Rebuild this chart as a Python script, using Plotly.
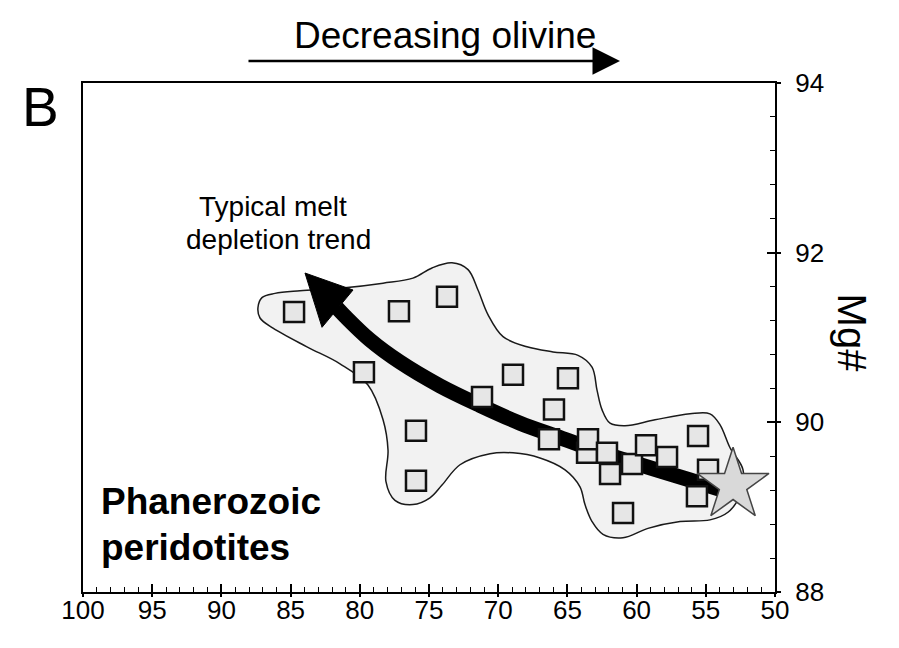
import plotly.graph_objects as go

# Olivine content (x) vs bulk-rock Mg# (y) for Phanerozoic peridotites
olivine = [84.75, 77.17, 73.70, 79.70, 71.17, 68.93, 64.96, 65.97, 75.94, 75.94,
           66.33, 63.58, 63.51, 62.14, 61.92, 60.33, 59.32, 57.80, 55.56, 54.84,
           55.64, 60.98]
mg_number = [91.30, 91.31, 91.48, 90.59, 90.30, 90.56, 90.52, 90.15, 89.90, 89.31,
             89.80, 89.64, 89.80, 89.64, 89.39, 89.51, 89.73, 89.59, 89.84, 89.44,
             89.13, 88.93]

# Primitive mantle reference composition (star)
pm_olivine = [53.03]
pm_mg = [89.26]

# Outline of the data field
field_x = [87.36, 87.07, 86.13, 84.32, 81.43, 78.32, 76.16, 74.78, 73.34, 72.18,
           71.46, 70.74, 69.65, 67.92, 66.04, 64.23, 63.22, 62.86, 62.50, 61.92,
           60.84, 58.67, 56.14, 54.70, 53.97, 53.25, 52.31, 52.53, 53.40, 54.70,
           56.86, 59.18, 60.98, 62.43, 63.22, 63.73, 64.09, 65.17, 66.98, 68.93,
           70.59, 72.76, 74.06, 74.93, 76.16, 77.46, 78.11, 77.96, 78.32, 79.41,
           81.43, 83.82, 86.27, 87.21, 87.36]
field_y = [91.35, 91.47, 91.52, 91.55, 91.58, 91.64, 91.70, 91.82, 91.88, 91.80,
           91.56, 91.27, 91.01, 90.89, 90.83, 90.79, 90.65, 90.38, 90.15, 89.99,
           89.96, 90.03, 90.10, 90.10, 89.97, 89.70, 89.44, 89.14, 88.94, 88.85,
           88.83, 88.75, 88.64, 88.68, 88.83, 89.03, 89.24, 89.44, 89.58, 89.64,
           89.63, 89.50, 89.26, 89.11, 89.03, 89.08, 89.30, 89.67, 90.03, 90.44,
           90.69, 90.89, 91.11, 91.23, 91.35]

# Melt depletion trend (curved arrow shaft and head)
trend_x = [53.97, 56.14, 59.75, 62.64, 65.53, 68.42, 71.32, 74.21, 77.10, 79.26, 81.07, 81.65]
trend_y = [89.21, 89.32, 89.50, 89.65, 89.82, 89.99, 90.20, 90.43, 90.71, 90.97, 91.25, 91.35]
head_x = [83.96, 82.73, 80.49, 83.96]
head_y = [91.76, 91.12, 91.56, 91.76]

x_ticks = [100, 95, 90, 85, 80, 75, 70, 65, 60, 55, 50]
y_ticks = [88, 90, 92, 94]

FONT = "Liberation Sans, Arial, sans-serif"

fig = go.Figure()

fig.add_trace(go.Scatter(
    x=field_x, y=field_y, mode="lines", fill="toself",
    fillcolor="#f2f2f2", line=dict(color="#1a1a1a", width=1.5, shape="spline", smoothing=1),
    hoverinfo="skip", showlegend=False))

fig.add_trace(go.Scatter(
    x=trend_x, y=trend_y, mode="lines",
    line=dict(color="black", width=15, shape="spline"),
    hoverinfo="skip", showlegend=False))

fig.add_trace(go.Scatter(
    x=head_x, y=head_y, mode="lines", fill="toself", fillcolor="black",
    line=dict(color="black", width=1), hoverinfo="skip", showlegend=False))

fig.add_trace(go.Scatter(
    x=olivine, y=mg_number, mode="markers",
    marker=dict(symbol="square", size=20, color="#e6e6e6",
                line=dict(color="#111111", width=2.5)),
    showlegend=False))

fig.add_trace(go.Scatter(
    x=pm_olivine, y=pm_mg, mode="markers",
    marker=dict(symbol="star", size=54, color="#d9d9d9",
                line=dict(color="#444444", width=1.5)),
    showlegend=False))

# Invisible trace on the overlay axes so their outward major ticks are drawn
fig.add_trace(go.Scatter(x=[100], y=[88], xaxis="x2", yaxis="y2", mode="markers",
                         marker=dict(opacity=0), hoverinfo="skip", showlegend=False))

fig.update_layout(
    width=899, height=648,
    margin=dict(l=83, r=124, t=83, b=56),
    paper_bgcolor="white", plot_bgcolor="white",
    font=dict(family=FONT, color="black"),
    xaxis=dict(
        range=[100, 50], tickvals=x_ticks, ticks="inside", ticklen=8, tickwidth=1.5,
        tickcolor="black", showline=True, linecolor="black", linewidth=2, mirror=True,
        showgrid=False, zeroline=False, tickfont=dict(size=26, family=FONT),
        ticklabelstandoff=-6,
        minor=dict(dtick=1, tick0=50, ticks="inside", ticklen=5, tickwidth=1, tickcolor="black"),
    ),
    yaxis=dict(
        range=[88, 94], side="right", tickvals=y_ticks, ticks="inside", ticklen=8,
        tickwidth=1.5, tickcolor="black", showline=True, linecolor="black", linewidth=2,
        mirror=True, showgrid=False, zeroline=False, tickfont=dict(size=26, family=FONT),
        ticklabelstandoff=13,
        minor=dict(dtick=0.4, tick0=88, ticks="inside", ticklen=5, tickwidth=1, tickcolor="black"),
    ),
    xaxis2=dict(range=[100, 50], overlaying="x", anchor="y", side="bottom",
                tickvals=x_ticks, ticks="outside", ticklen=4, tickwidth=1.5, tickcolor="black",
                showticklabels=False, showgrid=False, zeroline=False, showline=False),
    yaxis2=dict(range=[88, 94], overlaying="y", anchor="x", side="right",
                tickvals=y_ticks, ticks="outside", ticklen=5, tickwidth=1.5, tickcolor="black",
                showticklabels=False, showgrid=False, zeroline=False, showline=False),
    annotations=[
        dict(text="B", x=-0.062, y=0.953, xref="paper", yref="paper", showarrow=False,
             font=dict(size=55, family=FONT), xanchor="center", yanchor="middle"),
        dict(text="Decreasing olivine", x=0.523, y=1.094, xref="paper", yref="paper",
             showarrow=False, font=dict(size=37, family=FONT), xanchor="center", yanchor="middle"),
        dict(text="", x=0.776, y=1.043, xref="paper", yref="paper", showarrow=True,
             ax=-373, ay=0, axref="pixel", ayref="pixel", arrowhead=2, arrowsize=2.2,
             arrowwidth=2.5, arrowcolor="black"),
        dict(text="Mg#", x=1.111, y=0.508, xref="paper", yref="paper", showarrow=False,
             textangle=90, font=dict(size=40, family=FONT), xanchor="center", yanchor="middle"),
        dict(text="Typical melt", x=0.275, y=0.757, xref="paper", yref="paper",
             showarrow=False, font=dict(size=28, family=FONT), xanchor="center", yanchor="middle"),
        dict(text="depletion trend", x=0.283, y=0.692, xref="paper", yref="paper",
             showarrow=False, font=dict(size=28, family=FONT), xanchor="center", yanchor="middle"),
        dict(text="<b>Phanerozoic</b>", x=0.023, y=0.177, xref="paper", yref="paper",
             showarrow=False, font=dict(size=37, family=FONT), xanchor="left", yanchor="middle"),
        dict(text="<b>peridotites</b>", x=0.023, y=0.088, xref="paper", yref="paper",
             showarrow=False, font=dict(size=37, family=FONT), xanchor="left", yanchor="middle"),
    ],
)

fig.write_html("out.html")
